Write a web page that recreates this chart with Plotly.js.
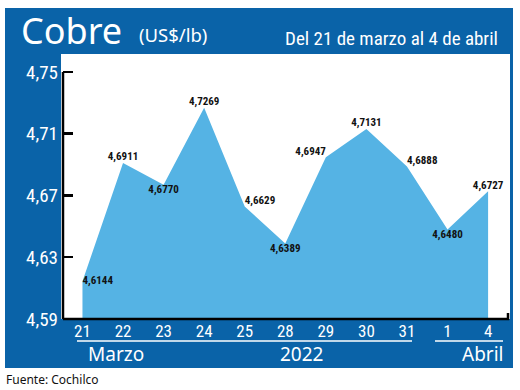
<!DOCTYPE html>
<html>
<head>
<meta charset="utf-8">
<script src="https://cdn.plot.ly/plotly-3.0.1.min.js"></script>
<style>
html,body{margin:0;padding:0;background:#fff;}#chart{width:520px;height:390px;}
.xtick text, .ytick text, .textpoint text, .annotation[data-index="2"] text { font-stretch: 75% !important; }
</style>
</head>
<body>
<div id="chart"></div>
<script>
// Data
var days = ['21','22','23','24','25','28','29','30','31','1','4'];
var prices = [4.6144, 4.6911, 4.6770, 4.7269, 4.6629, 4.6389, 4.6947, 4.7131, 4.6888, 4.6480, 4.6727];
var labelPos = ['middle right','top center','bottom center','top center','top right','bottom center','top left','top center','top right','bottom center','top center'];
var yTicks = [4.59, 4.63, 4.67, 4.71, 4.75];

var DARK = '#0A63A8', LIGHT = '#55B3E4';
var NARROW = 'Roboto, sans-serif';
var SANS = '"Noto Sans", "Open Sans", sans-serif';

var L = 63, R = 510, T = 54, B = 319;
function px(x){ return (x - L) / (R - L); }
function py(y){ return (B - y) / (B - T); }

var traces = [
  {x: days, y: prices, type: 'scatter', mode: 'lines', fill: 'tozeroy',
   fillcolor: LIGHT, line: {width: 0, color: LIGHT}, hoverinfo: 'skip'},
  {x: days, y: prices, type: 'scatter', mode: 'text', texttemplate: '%{y:.4f}',
   textposition: labelPos, textfont: {family: NARROW, size: 11, weight: 'bold', color: '#111'},
   hoverinfo: 'skip'}
];

var layout = {
  width: 520, height: 390,
  margin: {l: L, r: 520 - R, t: T, b: 390 - B, pad: 0},
  paper_bgcolor: '#ffffff', plot_bgcolor: 'rgba(0,0,0,0)',
  separators: ',.',
  showlegend: false,
  hovermode: false,
  xaxis: {type: 'category', categoryorder: 'array', categoryarray: days,
    range: [-0.48, 10.54], showgrid: false, zeroline: false, showline: false,
    ticks: '', tickfont: {family: NARROW, size: 17, color: '#ffffff'}, fixedrange: true},
  yaxis: {range: [4.59, 4.59 + (B - T) / 1544], tickvals: yTicks, tickformat: '.2f',
    showgrid: false, zeroline: false, showline: false,
    ticks: 'inside', ticklen: 10, tickwidth: 2.5, tickcolor: '#000',
    tickfont: {family: NARROW, size: 19, color: '#ffffff'}, ticklabelstandoff: 4, fixedrange: true},
  shapes: [
    {type: 'rect', xref: 'paper', yref: 'paper', x0: px(5), x1: px(513), y0: py(368), y1: py(8),
     fillcolor: DARK, line: {width: 0}, layer: 'below'},
    {type: 'rect', xref: 'paper', yref: 'paper', x0: px(61), x1: px(510), y0: 0, y1: 1,
     fillcolor: '#ffffff', line: {width: 0}, layer: 'below'},
    {type: 'line', xref: 'paper', yref: 'paper', x0: 0, x1: 0, y0: 0, y1: py(72),
     line: {color: '#000', width: 2.5}},
    {type: 'path', xref: 'paper', yref: 'paper',
     path: 'M ' + 0 + ' ' + 0 + ' L ' + px(508) + ' 0 L ' + px(508) + ' ' + py(313),
     line: {color: '#000', width: 2.5}},
    {type: 'line', xref: 'paper', yref: 'paper', x0: px(77), x1: px(412), y0: py(341), y1: py(341),
     line: {color: '#ffffff', width: 1.5}},
    {type: 'line', xref: 'paper', yref: 'paper', x0: px(435), x1: px(503), y0: py(341), y1: py(341),
     line: {color: '#ffffff', width: 1.5}}
  ],
  annotations: [
    {text: 'Cobre', xref: 'paper', yref: 'paper', x: px(19), y: py(30), xanchor: 'left', yanchor: 'middle',
     showarrow: false, font: {family: SANS, size: 36, color: '#ffffff'}},
    {text: '(US$/lb)', xref: 'paper', yref: 'paper', x: px(137), y: py(34), xanchor: 'left', yanchor: 'middle',
     showarrow: false, font: {family: SANS, size: 18.5, color: '#ffffff'}},
    {text: 'Del 21 de marzo al 4 de abril', xref: 'paper', yref: 'paper', x: px(391), y: py(38), xanchor: 'center', yanchor: 'middle',
     showarrow: false, font: {family: NARROW, size: 19, color: '#ffffff'}},
    {text: 'Marzo', xref: 'paper', yref: 'paper', x: px(116), y: py(354), xanchor: 'center', yanchor: 'middle',
     showarrow: false, font: {family: SANS, size: 19, color: '#ffffff'}},
    {text: '2022', xref: 'paper', yref: 'paper', x: px(301), y: py(354), xanchor: 'center', yanchor: 'middle',
     showarrow: false, font: {family: SANS, size: 19, color: '#ffffff'}},
    {text: 'Abril', xref: 'paper', yref: 'paper', x: px(482), y: py(354), xanchor: 'center', yanchor: 'middle',
     showarrow: false, font: {family: SANS, size: 19, color: '#ffffff'}},
    {text: 'Fuente: Cochilco', xref: 'paper', yref: 'paper', x: px(4), y: py(379), xanchor: 'left', yanchor: 'middle',
     showarrow: false, font: {family: SANS, size: 12, color: '#111'}}
  ]
};

Plotly.newPlot('chart', traces, layout, {displayModeBar: false, staticPlot: true});
</script>
</body>
</html>
